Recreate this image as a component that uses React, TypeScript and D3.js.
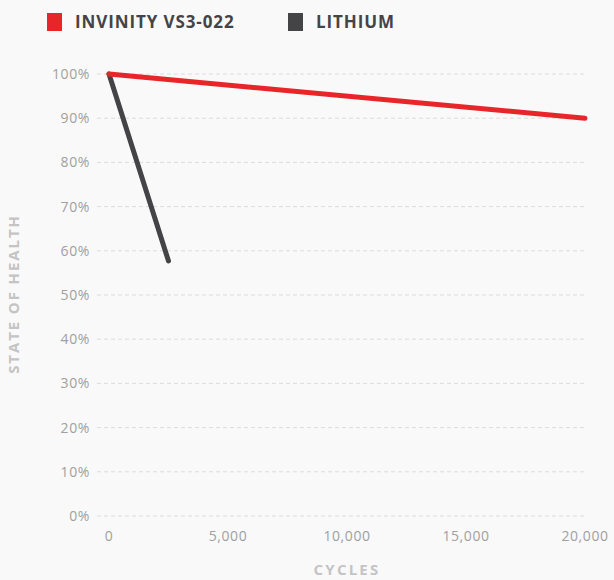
import React from "react";
import * as d3 from "d3";

const seriesNames = ["INVINITY VS3-022", "LITHIUM"];
const seriesColors = ["#e8262a", "#444446"];
const invinityCycles = [0, 20000];
const invinityHealth = [100, 90];
const lithiumCycles = [0, 2500];
const lithiumHealth = [100, 57.7];
const yTicks = [0, 10, 20, 30, 40, 50, 60, 70, 80, 90, 100];
const xTicks = [0, 5000, 10000, 15000, 20000];

const W = 614, H = 580;
const FONT = "'Open Sans', 'Noto Sans', sans-serif";

export default function App() {
  const x = d3.scaleLinear().domain([0, 20000]).range([109, 585]);
  const y = d3.scaleLinear().domain([0, 100]).range([516, 74]);
  const line = d3.line<[number, number]>().x(d => x(d[0])).y(d => y(d[1]));
  const inv: [number, number][] = invinityCycles.map((c, i) => [c, invinityHealth[i]]);
  const lit: [number, number][] = lithiumCycles.map((c, i) => [c, lithiumHealth[i]]);
  const fmt = d3.format(",");
  const legendX = [47, 288];
  return (
    <svg width={W} height={H} style={{ position: "absolute", left: 0, top: 0, background: "#f9f9f9" }}>
      <rect width={W} height={H} fill="#f9f9f9" />
      {seriesNames.map((n, i) => (
        <g key={n}>
          <rect x={legendX[i]} y={13} width={15} height={18} fill={seriesColors[i]} />
          <text x={legendX[i] + 28} y={28} fontFamily={FONT} fontWeight={700} fontSize={17} letterSpacing={0.9} fill="#444446">{n}</text>
        </g>
      ))}
      {yTicks.map(t => (
        <g key={t}>
          <line x1={97} x2={585} y1={y(t)} y2={y(t)} stroke="#dcdcdc" strokeWidth={1} strokeDasharray="4 3" />
          <text x={90} y={y(t) + 5} textAnchor="end" fontFamily={FONT} fontSize={14} letterSpacing={0.6} fill="#a0a0a0">{t}%</text>
        </g>
      ))}
      {xTicks.map(t => (
        <text key={t} x={x(t)} y={541} textAnchor="middle" fontFamily={FONT} fontSize={14} letterSpacing={0.6} fill="#a0a0a0">{fmt(t)}</text>
      ))}
      <text transform="translate(19,294) rotate(-90)" textAnchor="middle" fontFamily={FONT} fontWeight={700} fontSize={15} letterSpacing={1.9} fill="#c4c4c4">STATE OF HEALTH</text>
      <text x={347} y={575} textAnchor="middle" fontFamily={FONT} fontWeight={700} fontSize={15} letterSpacing={2.2} fill="#c4c4c4">CYCLES</text>
      <path d={line(lit) || ""} fill="none" stroke={seriesColors[1]} strokeWidth={5} strokeLinecap="round" />
      <path d={line(inv) || ""} fill="none" stroke={seriesColors[0]} strokeWidth={5} strokeLinecap="round" />
    </svg>
  );
}
